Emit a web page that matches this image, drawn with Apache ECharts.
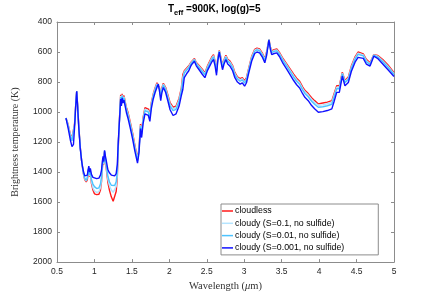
<!DOCTYPE html>
<html><head><meta charset="utf-8">
<script src="https://cdn.jsdelivr.net/npm/echarts@6/dist/echarts.min.js"></script>
<style>html,body{margin:0;padding:0;background:#fff}#c{width:436px;height:297px}</style>
</head><body><div id="c"></div>
<script>
const wavelength = [0.62,0.65,0.68,0.70,0.72,0.735,0.75,0.763,0.775,0.79,0.81,0.83,0.85,0.87,0.89,0.905,0.915,0.925,0.935,0.945,0.96,0.98,1.00,1.03,1.06,1.08,1.095,1.105,1.115,1.125,1.135,1.145,1.16,1.18,1.20,1.225,1.25,1.27,1.29,1.305,1.32,1.335,1.35,1.36,1.37,1.38,1.395,1.41,1.43,1.45,1.48,1.51,1.54,1.575,1.595,1.615,1.63,1.65,1.675,1.70,1.72,1.74,1.76,1.785,1.81,1.835,1.853,1.87,1.885,1.90,1.92,1.95,1.98,2.01,2.05,2.09,2.13,2.16,2.18,2.20,2.23,2.26,2.29,2.31,2.335,2.36,2.40,2.44,2.475,2.51,2.54,2.565,2.59,2.61,2.63,2.648,2.667,2.69,2.71,2.73,2.755,2.78,2.81,2.845,2.875,2.91,2.945,2.975,3.005,3.03,3.06,3.10,3.14,3.17,3.205,3.24,3.275,3.30,3.33,3.35,3.367,3.40,3.435,3.47,3.52,3.565,3.61,3.66,3.70,3.74,3.78,3.81,3.835,3.855,3.90,3.94,3.99,4.05,4.11,4.17,4.20,4.235,4.27,4.31,4.345,4.39,4.43,4.48,4.52,4.545,4.59,4.63,4.68,4.73,4.78,4.85,4.92,5.00];

const cloudless = [1040,1085,1150,1176,1170,1075,950,862,950,1085,1230,1330,1405,1450,1465,1450,1410,1375,1430,1405,1475,1520,1545,1550,1548,1520,1460,1380,1320,1350,1265,1310,1385,1470,1520,1565,1595,1585,1530,1440,1210,1035,885,930,878,912,890,930,975,1005,1070,1140,1220,1308,1240,1080,1130,1035,970,958,980,1020,935,880,838,805,797,840,890,840,808,835,885,938,968,960,908,840,750,725,708,692,668,655,643,670,692,715,740,692,660,635,617,660,722,636,590,640,688,652,622,648,660,690,736,765,777,770,792,770,708,628,582,574,580,606,644,596,515,566,592,584,580,603,645,677,710,748,775,795,832,855,850,877,905,924,946,940,934,924,878,825,825,735,790,766,694,632,600,595,612,648,672,617,622,650,686,738];

const cloudyS01 = [1040,1090,1155,1182,1175,1080,950,862,950,1088,1232,1330,1405,1445,1460,1448,1405,1375,1425,1400,1465,1505,1525,1535,1530,1505,1450,1370,1315,1345,1262,1305,1375,1450,1490,1520,1535,1530,1495,1420,1205,1040,893,938,885,918,898,938,982,1015,1080,1150,1230,1315,1248,1088,1140,1045,980,968,990,1030,945,887,845,812,800,845,898,848,814,842,895,948,978,970,918,850,770,732,715,698,672,660,648,675,698,722,746,698,668,642,624,668,730,640,592,646,695,658,628,655,668,698,744,772,785,778,800,778,715,635,588,580,586,612,650,602,516,570,598,590,586,609,652,685,719,758,785,805,842,865,860,887,916,935,955,952,945,935,888,835,835,740,797,774,702,640,608,602,619,656,678,619,627,658,694,744];

const cloudyS001 = [1040,1095,1165,1192,1185,1085,955,862,955,1090,1235,1330,1400,1440,1455,1440,1400,1370,1420,1395,1450,1480,1497,1510,1505,1480,1430,1360,1310,1340,1260,1300,1360,1430,1465,1488,1494,1490,1465,1400,1200,1045,900,945,890,925,905,945,990,1025,1090,1160,1240,1325,1255,1095,1150,1055,990,978,1000,1040,955,895,852,818,805,850,905,855,820,850,905,960,990,982,930,860,790,740,722,705,678,665,652,680,705,730,752,705,675,650,632,675,738,645,595,652,702,665,635,662,675,705,752,780,795,786,808,786,722,642,595,586,592,618,658,608,518,575,604,596,592,615,660,693,728,768,795,815,852,876,870,898,928,948,968,965,958,948,900,845,845,745,805,782,710,648,616,610,626,664,684,622,632,665,702,750];

const cloudyS0001 = [1040,1110,1190,1230,1215,1100,960,862,960,1100,1240,1330,1390,1425,1432,1420,1385,1360,1400,1375,1415,1435,1442,1444,1440,1420,1385,1330,1295,1330,1255,1290,1330,1385,1405,1420,1426,1425,1410,1350,1180,1050,913,960,905,940,920,960,1010,1045,1110,1180,1260,1341,1270,1110,1170,1075,1012,1000,1023,1062,975,913,870,835,814,865,924,872,836,868,925,985,1023,1012,960,890,850,770,745,725,690,676,662,692,720,748,771,722,692,668,650,690,755,655,600,665,718,680,650,680,694,725,771,800,814,805,828,805,740,660,610,600,606,632,672,620,520,585,617,610,606,630,678,712,749,790,818,840,878,902,895,924,957,978,1001,997,990,979,930,869,869,760,825,803,730,668,636,628,642,680,694,628,642,680,718,763];

const seriesNames = ['cloudless','cloudy (S=0.1, no sulfide)','cloudy (S=0.01, no sulfide)','cloudy (S=0.001, no sulfide)'];
const seriesColors = ['#ff1a1a','#b4e4ff','#4cc3ff','#1010ff'];
const seriesValues = [cloudless, cloudyS01, cloudyS001, cloudyS0001];
const xTicks = [0.5,1,1.5,2,2.5,3,3.5,4,4.5,5];
const yTicks = [400,600,800,1000,1200,1400,1600,1800,2000];

const chart = echarts.init(document.getElementById('c'), null, {renderer:'canvas'});
const axisColor = '#8c8c8c';
const tickLabel = {color:'#262626', fontSize:8.5, fontFamily:'Liberation Sans, Arial, sans-serif'};
const xBase = {type:'value', min:xTicks[0], max:xTicks[xTicks.length-1], interval:0.5,
  axisLine:{show:true, lineStyle:{color:axisColor, width:1}},
  axisTick:{show:true, inside:true, length:3, lineStyle:{color:axisColor}},
  splitLine:{show:false}};
const yBase = {type:'value', inverse:true, min:yTicks[0], max:yTicks[yTicks.length-1], interval:200,
  axisLine:{show:true, lineStyle:{color:axisColor, width:1}},
  axisTick:{show:true, inside:true, length:3, lineStyle:{color:axisColor}},
  splitLine:{show:false}};
const titleFont = 'Liberation Sans, Arial, sans-serif';

chart.setOption({
  animation:false,
  backgroundColor:'#fff',
  graphic:[{
    type:'text', left:168, top:4, silent:true,
    style:{
      text:'{b|T}{s|eff}{b| =900K, log(g)=5}',
      rich:{
        b:{fontSize:10, fontWeight:'bold', fill:'#000', fontFamily:titleFont, verticalAlign:'bottom'},
        s:{fontSize:7.5, fontWeight:'bold', fill:'#000', fontFamily:titleFont, verticalAlign:'bottom', padding:[0,0,-3,0]}
      }
    }
  }],
  grid:{left:57, right:42, top:22, bottom:32, containLabel:false},
  legend:{
    orient:'vertical', left:221, top:204,
    data:seriesNames,
    icon:'rect', itemWidth:11, itemHeight:1.5, itemGap:2.3,
    padding:[2,34,2,1],
    borderColor:'#8c8c8c', borderWidth:1, backgroundColor:'#fff',
    textStyle:{fontSize:8.8, color:'#000', fontFamily:'Liberation Sans, Arial, sans-serif', padding:[0,0,0,-3], lineHeight:10}
  },
  xAxis:[
    Object.assign({}, xBase, {position:'bottom',
      axisLabel:Object.assign({}, tickLabel, {margin:5, formatter:v=>String(v)}),
      name:'Wavelength ({i|μ}m)', nameLocation:'middle', nameGap:18,
      nameTextStyle:{fontSize:10.5, color:'#333', fontFamily:'Liberation Serif, Times New Roman, serif',
        rich:{i:{fontSize:10.5, fontStyle:'italic', color:'#333', fontFamily:'Liberation Serif, Times New Roman, serif'}}}}),
    Object.assign({}, xBase, {position:'top', axisLabel:{show:false}})
  ],
  yAxis:[
    Object.assign({}, yBase, {position:'left',
      axisLabel:Object.assign({}, tickLabel, {margin:5, formatter:v=>String(v)}),
      name:'Brightness temperature (K)', nameLocation:'middle', nameGap:37,
      nameTextStyle:{fontSize:10, color:'#333', fontFamily:'Liberation Serif, Times New Roman, serif'}}),
    Object.assign({}, yBase, {position:'right', axisLabel:{show:false}})
  ],
  series: seriesNames.map((n,k)=>({
    name:n, type:'line', xAxisIndex:0, yAxisIndex:0,
    data: wavelength.map((w,i)=>[w, seriesValues[k][i]]),
    showSymbol:false, symbol:'none', smooth:false,
    lineStyle:{color:seriesColors[k], width:1.4},
    itemStyle:{color:seriesColors[k]},
    z:2+k
  }))
});
</script></body></html>
